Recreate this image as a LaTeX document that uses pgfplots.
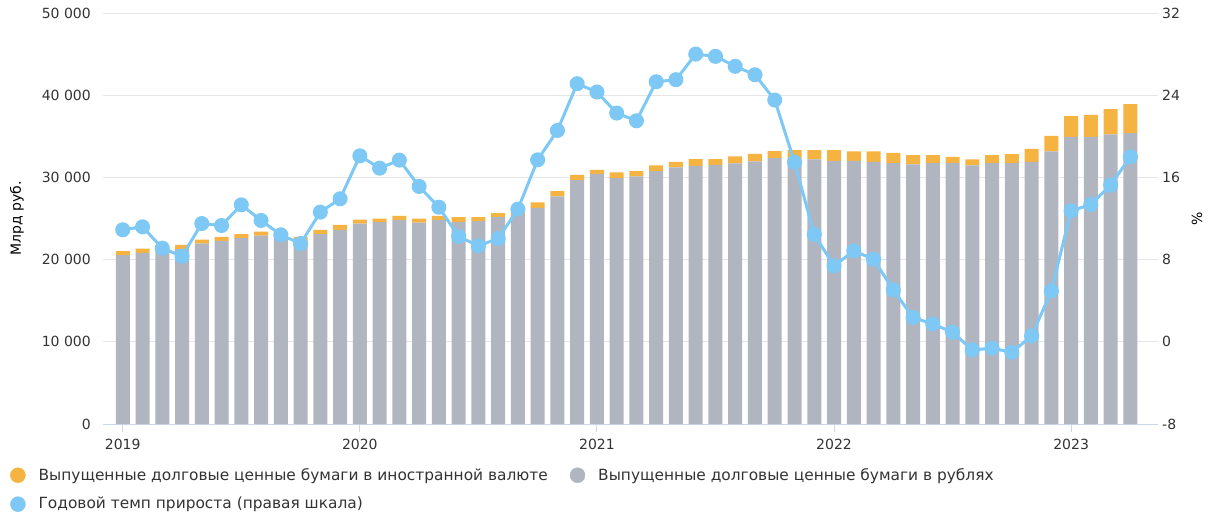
\documentclass[border=0pt]{standalone}
\usepackage{fontspec}
\setmainfont{DejaVu Sans}
\usepackage{pgfplots}
\usepackage{pgfplotstable}
\pgfplotsset{compat=1.18}

\definecolor{rubgray}{HTML}{B0B5BF}
\definecolor{fxorange}{HTML}{F5B342}
\definecolor{rateblue}{HTML}{7DC8F4}
\definecolor{gridc}{HTML}{E6E6E6}
\definecolor{axisc}{HTML}{CCD6EB}
\definecolor{labc}{HTML}{333333}

% month index (0 = Jan 2019), rub / fx in bn rub, rate in %
\pgfplotstableread{
m  rub    fx    rate
0  20536  487   10.90
1  20820  527   11.19
2  21104  487   9.11
3  21266  528   8.33
4  21956  487   11.51
5  22281  487   11.32
6  22606  487   13.33
7  22930  487   11.81
8  22687  406   10.41
9  22321  447   9.56
10 23093  527   12.62
11 23620  609   13.92
12 24391  487   18.10
13 24554  446   16.90
14 24838  487   17.68
15 24513  487   15.12
16 24838  487   13.10
17 24554  608   10.25
18 24675  487   9.34
19 25162  487   10.05
20 25446  690   12.91
21 26299  649   17.71
22 27679  649   20.57
23 29667  650   25.12
24 30438  487   24.31
25 29911  690   22.26
26 30114  649   21.51
27 30763  690   25.31
28 31209  690   25.51
29 31412  812   28.00
30 31534  690   27.78
31 31696  853   26.81
32 31940  933   25.99
33 32346  852   23.53
34 32143  1177  17.49
35 32183  1137  10.45
36 32000  1320  7.39
37 32021  1136  8.85
38 31899  1258  8.04
39 31737  1258  5.05
40 31575  1136  2.36
41 31737  974   1.74
42 31737  771   0.93
43 31453  730   -0.79
44 31737  974   -0.63
45 31737  1096  -1.02
46 31899  1583  0.57
47 33157  1908  4.95
48 34943  2516  12.75
49 34943  2679  13.36
50 35227  3085  15.25
51 35390  3530  18.01
}\data

\pgfplotsset{
  dotleg/.style={legend image code/.code={\fill[#1] (0pt,0pt) circle (7.5pt);}},
  base/.style={
    scale only axis, width=1055pt, height=411pt,
    xmin=-1, xmax=52.4,
    scaled y ticks=false,
    tick label style={labc},
    label style={labc},
  }
}

\begin{document}
\fontsize{14pt}{17pt}\selectfont
\begin{tikzpicture}
\useasboundingbox (-103pt,-91pt) rectangle (1109pt,424pt);
\begin{axis}[
  base,
  ymin=0, ymax=50000,
  ybar stacked, bar width=14pt,
  axis lines*=left,
  x axis line style={draw=axisc, line width=1pt},
  y axis line style={draw=none},
  xtick={0,12,24,36,48},
  xticklabels={2019,2020,2021,2022,2023},
  xtick style={draw=axisc, line width=1pt},
  tick align=outside, major tick length=8pt,
  ytick={0,10000,...,50000},
  yticklabels={0,10 000,20 000,30 000,40 000,50 000},
  ytick style={draw=none},
  yticklabel style={inner sep=0pt, xshift=-4pt},
  xticklabel style={yshift=-2pt},
  ymajorgrids, grid style={draw=gridc, line width=1pt},
  ylabel={Млрд руб.},
  every axis y label/.style={at={(axis description cs:0,0.5)}, xshift=-86pt, rotate=90, anchor=center},
]
\addplot[fill=rubgray, draw=none, forget plot] table[x=m, y=rub] {\data};
\addplot[fill=fxorange, draw=none, forget plot] table[x=m, y=fx] {\data};
\end{axis}
\begin{axis}[
  base,
  ymin=-8, ymax=32,
  axis x line=none,
  axis y line*=right,
  y axis line style={draw=none},
  ytick={-8,0,8,16,24,32},
  yticklabels={-8,0,8,16,24,32},
  ytick style={draw=none},
  yticklabel style={inner sep=0pt, xshift=4pt},
  ylabel={\%},
  every axis y label/.style={at={(axis description cs:1,0.5)}, xshift=39pt, rotate=90, anchor=center},
  legend style={at={(axis description cs:0,0)}, anchor=north west, xshift=-96pt, yshift=-40pt,
    draw=none, fill=none, text=labc, row sep=11pt, font=\fontsize{15.4pt}{18pt}\selectfont,
    /tikz/every odd column/.append style={column sep=11pt},
    /tikz/every even column/.append style={column sep=20pt}},
  legend cell align=left, legend columns=2,
]
\addplot[rateblue, line width=3pt, mark=*, mark size=6pt, mark options={draw=none, fill=rateblue}, forget plot]
  table[x=m, y=rate] {\data};
\addlegendimage{dotleg=fxorange}
\addlegendentry{Выпущенные долговые ценные бумаги в иностранной валюте}
\addlegendimage{dotleg=rubgray}
\addlegendentry{Выпущенные долговые ценные бумаги в рублях}
\addlegendimage{dotleg=rateblue}
\addlegendentry{Годовой темп прироста (правая шкала)}
\end{axis}
\end{tikzpicture}
\end{document}
